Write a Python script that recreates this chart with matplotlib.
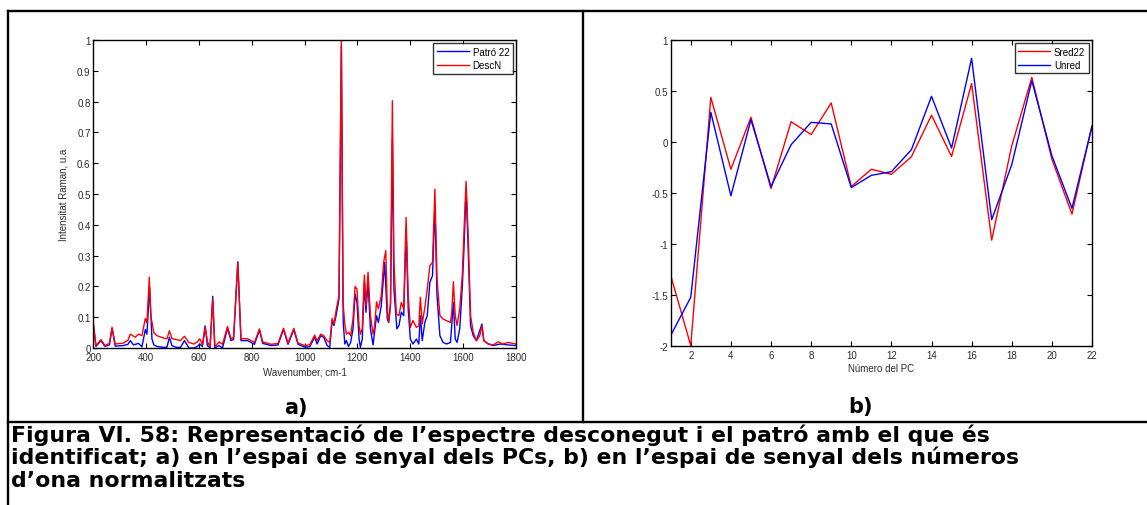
import matplotlib
matplotlib.use("Agg")
import matplotlib.pyplot as plt
from matplotlib.lines import Line2D

# ---------------- data ----------------
# a) Raman spectra (wavenumber, cm-1 / normalised intensity)
patro_wn = [200, 210, 229, 244, 261, 271, 283, 314, 331, 340, 352, 371, 384, 397, 403,
            413, 422, 429, 441, 467, 479, 488, 498, 517, 530, 545, 562, 581, 594, 603,
            613, 623, 632, 642, 652, 660, 676, 689, 708, 721, 731, 747, 759, 784, 810,
            829, 841, 873, 899, 920, 937, 959, 975, 1000, 1019, 1038, 1047, 1061, 1072,
            1085, 1095, 1104, 1111, 1120, 1130, 1139, 1146, 1152, 1158, 1166, 1174, 1183,
            1191, 1198, 1206, 1211, 1218, 1226, 1232, 1240, 1249, 1259, 1272, 1279, 1290,
            1303, 1313, 1318, 1325, 1332, 1338, 1349, 1357, 1366, 1375, 1384, 1392, 1400,
            1410, 1423, 1432, 1438, 1445, 1455, 1464, 1474, 1484, 1493, 1501, 1512, 1524,
            1537, 1552, 1563, 1570, 1577, 1587, 1597, 1604, 1611, 1619, 1628, 1638, 1650,
            1671, 1678, 1695, 1714, 1740, 1770, 1800]
patro_int = [0.075, 0.005, 0.024, 0.005, 0.010, 0.064, 0.006, 0.008, 0.012, 0.024, 0.010,
             0.015, 0.004, 0.060, 0.045, 0.197, 0.030, 0.010, 0.005, 0.002, 0.003, 0.035,
             0.007, 0.002, 0.002, 0.024, 0.000, 0.000, 0.005, 0.013, 0.005, 0.072, 0.008,
             0.000, 0.168, 0.000, 0.008, 0.000, 0.064, 0.024, 0.028, 0.280, 0.024, 0.024,
             0.012, 0.058, 0.015, 0.008, 0.010, 0.060, 0.012, 0.059, 0.012, 0.003, 0.004,
             0.035, 0.013, 0.040, 0.035, 0.008, 0.002, 0.089, 0.073, 0.110, 0.160, 0.980,
             0.083, 0.013, 0.024, 0.005, 0.018, 0.062, 0.175, 0.148, 0.029, 0.002, 0.029,
             0.213, 0.116, 0.213, 0.062, 0.010, 0.105, 0.083, 0.137, 0.278, 0.094, 0.083,
             0.137, 0.680, 0.191, 0.062, 0.073, 0.116, 0.105, 0.386, 0.127, 0.029, 0.013,
             0.029, 0.013, 0.105, 0.024, 0.083, 0.105, 0.213, 0.235, 0.462, 0.170, 0.040,
             0.018, 0.013, 0.018, 0.148, 0.029, 0.018, 0.062, 0.202, 0.343, 0.516, 0.320,
             0.073, 0.040, 0.024, 0.078, 0.024, 0.013, 0.008, 0.013, 0.010, 0.008]

descn_wn = [200, 210, 229, 244, 261, 271, 283, 314, 331, 340, 359, 371, 384, 397, 403, 412,
            418, 422, 429, 441, 467, 479, 488, 498, 517, 530, 545, 562, 581, 594, 603, 613,
            624, 632, 642, 652, 660, 667, 676, 689, 708, 721, 731, 747, 759, 784, 810, 829,
            841, 873, 899, 920, 937, 959, 975, 1000, 1019, 1038, 1047, 1061, 1072, 1085,
            1095, 1104, 1111, 1120, 1130, 1139, 1145, 1152, 1158, 1167, 1174, 1183, 1191,
            1198, 1206, 1211, 1218, 1226, 1232, 1240, 1249, 1259, 1265, 1272, 1279, 1290,
            1299, 1307, 1313, 1318, 1325, 1332, 1338, 1347, 1357, 1366, 1375, 1384, 1392,
            1400, 1410, 1423, 1432, 1438, 1445, 1455, 1464, 1474, 1484, 1493, 1501, 1512,
            1524, 1537, 1552, 1557, 1563, 1570, 1577, 1587, 1597, 1604, 1611, 1619, 1628,
            1638, 1650, 1663, 1671, 1678, 1695, 1714, 1733, 1751, 1770, 1800]
descn_int = [0.083, 0.008, 0.027, 0.008, 0.015, 0.067, 0.013, 0.016, 0.025, 0.045, 0.035,
             0.045, 0.040, 0.096, 0.082, 0.230, 0.100, 0.085, 0.050, 0.040, 0.032, 0.030,
             0.056, 0.030, 0.027, 0.024, 0.038, 0.018, 0.013, 0.020, 0.030, 0.010, 0.067,
             0.020, 0.005, 0.157, 0.005, 0.010, 0.020, 0.012, 0.070, 0.030, 0.035, 0.278,
             0.030, 0.030, 0.018, 0.062, 0.020, 0.012, 0.015, 0.064, 0.016, 0.064, 0.016,
             0.008, 0.010, 0.042, 0.024, 0.045, 0.040, 0.024, 0.018, 0.096, 0.078, 0.127,
             0.170, 1.000, 0.149, 0.078, 0.045, 0.051, 0.040, 0.094, 0.200, 0.191, 0.072,
             0.045, 0.062, 0.237, 0.137, 0.246, 0.105, 0.045, 0.072, 0.150, 0.127, 0.170,
             0.278, 0.316, 0.127, 0.083, 0.148, 0.803, 0.278, 0.110, 0.105, 0.148, 0.127,
             0.424, 0.170, 0.067, 0.089, 0.067, 0.072, 0.165, 0.078, 0.132, 0.190, 0.267,
             0.278, 0.516, 0.225, 0.105, 0.094, 0.089, 0.083, 0.116, 0.215, 0.105, 0.073,
             0.127, 0.240, 0.397, 0.541, 0.365, 0.105, 0.051, 0.024, 0.040, 0.072, 0.024,
             0.013, 0.010, 0.020, 0.013, 0.018, 0.013]

# b) scores on the principal components
pc_num = list(range(1, 23))
sred22 = [-1.31, -2.00, 0.435, -0.27, 0.24, -0.46, 0.196, 0.07, 0.38, -0.44, -0.27,
          -0.32, -0.147, 0.26, -0.145, 0.57, -0.965, -0.04, 0.63, -0.17, -0.71, 0.157]
unred = [-1.90, -1.525, 0.288, -0.53, 0.216, -0.44, -0.03, 0.19, 0.174, -0.45, -0.33,
         -0.294, -0.078, 0.445, -0.062, 0.817, -0.765, -0.225, 0.598, -0.137, -0.653, 0.15]

spec_xticks = list(range(200, 1801, 200))
spec_yticks = [0, 0.1, 0.2, 0.3, 0.4, 0.5, 0.6, 0.7, 0.8, 0.9, 1]
spec_yticklabels = ["0", "0.1", "0.2", "0.3", "0.4", "0.5", "0.6", "0.7", "0.8", "0.9", "1"]
pc_xticks = list(range(2, 23, 2))
pc_yticks = [-2, -1.5, -1, -0.5, 0, 0.5, 1]
pc_yticklabels = ["-2", "-1.5", "-1", "-0.5", "0", "0.5", "1"]

caption_lines = [
    "Figura VI. 58: Representació de l\u2019espectre desconegut i el patró amb el que és",
    "identificat; a) en l\u2019espai de senyal dels PCs, b) en l\u2019espai de senyal dels números",
    "d\u2019ona normalitzats",
]

# ---------------- figure ----------------
W, H = 1147, 506
fig = plt.figure(figsize=(W / 100, H / 100), dpi=100)
fig.patch.set_facecolor("white")

AX_FONT = ["Liberation Sans", "DejaVu Sans"]
TICK_COLOR = "#2b2b2b"


def px_rect(x0, y0, x1, y1):
    """Axes rectangle from pixel edges (top-left origin)."""
    return [x0 / W, 1 - y1 / H, (x1 - x0) / W, (y1 - y0) / H]


def style_axes(ax):
    for side in ("top", "right", "bottom", "left"):
        ax.spines[side].set_linewidth(1.0)
        ax.spines[side].set_color("black")
    ax.tick_params(direction="in", length=3.5, width=0.8, top=True, right=True,
                   labelsize=7, colors="black", labelcolor=TICK_COLOR)
    ax.tick_params(axis="x", pad=3)
    ax.tick_params(axis="y", pad=2)
    for lab in ax.get_xticklabels() + ax.get_yticklabels():
        lab.set_fontfamily(AX_FONT)


def boxed_legend(ax):
    leg = ax.legend(loc="upper right", prop={"family": AX_FONT, "size": 7},
                    frameon=True, fancybox=False, handlelength=3.3, handletextpad=0.4,
                    borderpad=0.35, labelspacing=0.35, borderaxespad=0.35)
    leg.get_frame().set_edgecolor("black")
    leg.get_frame().set_linewidth(1.0)
    return leg


# a) spectra
ax1 = fig.add_axes(px_rect(93.3, 41, 516, 349))
ax1.plot(patro_wn, patro_int, color=(0, 0, 1), lw=1.0, label="Patró 22")
ax1.plot(descn_wn, descn_int, color=(1, 0, 0), lw=1.0, label="DescN")
ax1.set_xlim(200, 1800)
ax1.set_ylim(0, 1)
ax1.set_xticks(spec_xticks)
ax1.set_yticks(spec_yticks)
ax1.set_yticklabels(spec_yticklabels)
ax1.set_xlabel("Wavenumber, cm-1", fontsize=7, family=AX_FONT, color=TICK_COLOR, labelpad=3)
ax1.set_ylabel("Intensitat Raman, u.a", fontsize=7, family=AX_FONT, color=TICK_COLOR, labelpad=6)
style_axes(ax1)
boxed_legend(ax1)

# b) PC scores
ax2 = fig.add_axes(px_rect(670.7, 40.7, 1092, 346.7))
ax2.plot(pc_num, sred22, color=(1, 0, 0), lw=1.0, label="Sred22")
ax2.plot(pc_num, unred, color=(0, 0, 1), lw=1.0, label="Unred")
ax2.set_xlim(1, 22)
ax2.set_ylim(-2, 1)
ax2.set_xticks(pc_xticks)
ax2.set_yticks(pc_yticks)
ax2.set_yticklabels(pc_yticklabels)
ax2.set_xlabel("Número del PC", fontsize=7, family=AX_FONT, color=TICK_COLOR, labelpad=2)
style_axes(ax2)
boxed_legend(ax2)

# panel tags
fig.text(296 / W, 1 - 408 / H, "a)", ha="center", va="center", fontsize=15,
         fontweight="bold", family="DejaVu Sans")
fig.text(860 / W, 1 - 407 / H, "b)", ha="center", va="center", fontsize=15,
         fontweight="bold", family="DejaVu Sans")


# table rules around the panels
def rule(x0, y0, x1, y1):
    fig.add_artist(Line2D([x0 / W, x1 / W], [1 - y0 / H, 1 - y1 / H],
                          transform=fig.transFigure, color="black", lw=1.7,
                          solid_capstyle="projecting"))


rule(8, 12, W + 2, 12)
rule(8, 12, 8, H + 2)
rule(583, 12, 583, 423)
rule(8, 423, W + 2, 423)

# caption, one line at a time
for i, line in enumerate(caption_lines):
    fig.text(11 / W, 1 - (442 + 22.5 * i) / H, line, ha="left", va="baseline",
             fontsize=15.8, fontweight="bold", family="DejaVu Sans", color="black")

fig.savefig("out.png", dpi=100)
